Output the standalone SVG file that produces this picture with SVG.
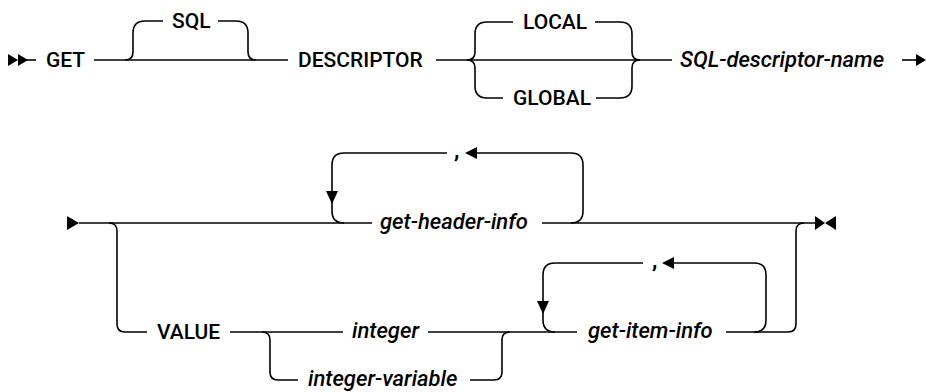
<svg xmlns="http://www.w3.org/2000/svg" width="926" height="392" viewBox="0 0 926 392">
<style>
.ln{fill:none;stroke:#000;stroke-width:1.6}
.ah{fill:#000;stroke:none}
.kw{font-family:Roboto,"Liberation Sans",Arial,sans-serif;font-size:21px;font-weight:500;fill:#000}
.var{font-family:Roboto,"Liberation Sans",Arial,sans-serif;font-size:22px;font-weight:500;font-style:italic;fill:#000}
.cm{font-family:Roboto,"Liberation Sans",Arial,sans-serif;font-size:22px;font-weight:700;fill:#000}
</style>
<rect width="926" height="392" fill="#fff"/>
<g id="connectors">
<path class="ln" d="M18,60 H36"/>
<path class="ln" d="M94,60 H288"/>
<path class="ln" d="M125,60 q8,0 8,-8 V33 q0,-12 12,-12 H163"/>
<path class="ln" d="M218,21 H236 q12,0 12,12 V52 q0,8 8,8"/>
<path class="ln" d="M436,60 H672"/>
<path class="ln" d="M467,60 q8,0 8,-8 V34 q0,-12 12,-12 H513"/>
<path class="ln" d="M595,22 H620 q12,0 12,12 V52 q0,8 8,8"/>
<path class="ln" d="M467,60 q8,0 8,8 V86 q0,12 12,12 H503"/>
<path class="ln" d="M596,98 H620 q12,0 12,-12 V68 q0,-8 8,-8"/>
<path class="ln" d="M902,60 H918"/>
<path class="ln" d="M79,223 H372"/>
<path class="ln" d="M542,223 H815"/>
<path class="ln" d="M109,223 q8,0 8,8 V324 q0,8 8,8 H147"/>
<path class="ln" d="M344,223 q-12,0 -12,-12 V165 q0,-12 12,-12 H447"/>
<path class="ln" d="M477,153 H571 q12,0 12,12 V211 q0,12 -12,12"/>
<path class="ln" d="M230,332 H343"/>
<path class="ln" d="M428,332 H577"/>
<path class="ln" d="M262,332 q8,0 8,8 V372 q0,8 8,8 H298"/>
<path class="ln" d="M470,380 H494 q8,0 8,-8 V340 q0,-8 8,-8"/>
<path class="ln" d="M555,332 q-12,0 -12,-12 V275 q0,-12 12,-12 H643"/>
<path class="ln" d="M674,263 H754 q12,0 12,12 V320 q0,12 -12,12"/>
<path class="ln" d="M726,332 H788 q8,0 8,-8 V231 q0,-8 8,-8"/>
<path class="ah" d="M8,54 L18,60 L8,66 Z M18,54 L28,60 L18,66 Z"/>
<path class="ah" d="M916,54 L926,60 L916,66 Z"/>
<path class="ah" d="M67,216 L79,223 L67,230 Z"/>
<path class="ah" d="M815,216 L825,223 L815,230 Z M836,216 L825,223 L836,230 Z"/>
<path class="ah" d="M477,147 L465,153 L477,159 Z"/>
<path class="ah" d="M326,191 L332,204 L338,191 Z"/>
<path class="ah" d="M674,257 L662,263 L674,269 Z"/>
<path class="ah" d="M537,301 L543,314 L549,301 Z"/>
</g>
<g id="n-get"><text class="kw" x="46" y="67">GET</text></g>
<g id="n-sql"><text class="kw" x="172" y="28">SQL</text></g>
<g id="n-descriptor"><text class="kw" x="298" y="67">DESCRIPTOR</text></g>
<g id="n-local"><text class="kw" x="523" y="29">LOCAL</text></g>
<g id="n-global"><text class="kw" x="513" y="105">GLOBAL</text></g>
<g id="n-sql-descriptor-name"><text class="var" x="680" y="67">SQL-descriptor-name</text></g>
<g id="n-comma1"><text class="cm" x="454" y="158">,</text></g>
<g id="n-get-header-info"><text class="var" x="380" y="229">get-header-info</text></g>
<g id="n-value"><text class="kw" x="157" y="339">VALUE</text></g>
<g id="n-integer"><text class="var" x="352" y="338">integer</text></g>
<g id="n-integer-variable"><text class="var" x="308" y="386">integer-variable</text></g>
<g id="n-comma2"><text class="cm" x="652" y="268">,</text></g>
<g id="n-get-item-info"><text class="var" x="588" y="338">get-item-info</text></g>
</svg>
